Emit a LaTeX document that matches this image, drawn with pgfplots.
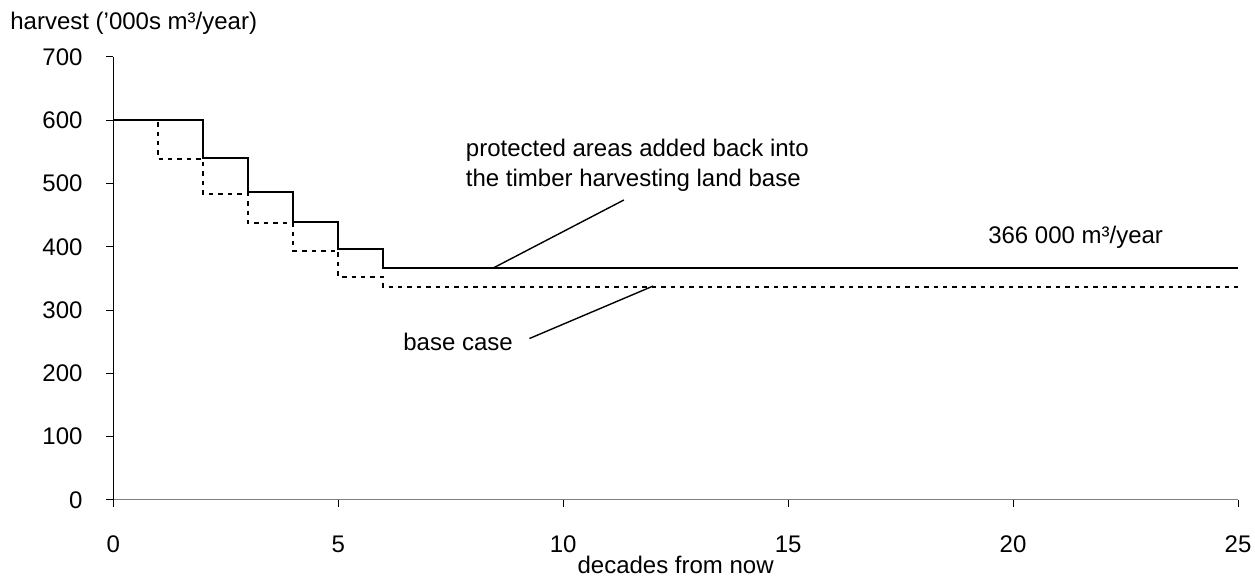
\documentclass[border=0pt]{standalone}
\usepackage{fontspec}
\setmainfont{Liberation Sans}
\usepackage{pgfplots}
\pgfplotsset{compat=1.18}
\begin{document}
\fontsize{12}{14.4}\selectfont
\begin{tikzpicture}
\useasboundingbox (-56.65pt,-38.5pt) rectangle (571pt,250pt);
\begin{axis}[
  scale only axis,
  width=562.5pt, height=221.5pt,
  xmin=0, xmax=25, ymin=0, ymax=700,
  axis x line=bottom, axis y line=left,
  axis line style={-},
  x axis line style={draw=gray},
  xtick={0,5,10,15,20,25},
  ytick={0,100,200,300,400,500,600,700},
  tick align=outside,
  major tick length=3.5pt,
  tick style={black, line width=0.5pt},
  /pgf/number format/assume math mode=true,
  xticklabel style={anchor=base, inner sep=0pt, yshift=-22.8pt},
  yticklabel style={anchor=east, inner sep=0pt, xshift=-11.7pt},
  xlabel={decades from now},
  xlabel style={at={(axis description cs:0.5,0)}, anchor=base, inner sep=0pt, yshift=-37pt},
  clip=false,
]
\addplot[const plot mark left, black, line width=1pt] coordinates {
  (0,600) (2,540) (3,487) (4,439) (5,396) (6,366) (25,366)
};
\addplot[const plot mark left, black, line width=1pt, dash pattern=on 2.2pt off 2.5pt] coordinates {
  (0,600) (1,538) (2,484) (3,437) (4,394) (5,353) (6,337) (25,337)
};
\draw[black, line width=0.7pt] (axis cs:8.46,367) -- (axis cs:11.35,474);
\draw[black, line width=0.7pt] (axis cs:9.25,255) -- (axis cs:12.0,338);
\node[anchor=base west, inner sep=0pt] at (axis cs:7.83,542) {protected areas added back into};
\node[anchor=base west, inner sep=0pt] at (axis cs:7.83,495.8) {the timber harvesting land base};
\node[anchor=base west, inner sep=0pt] at (axis cs:6.44,236.8) {base case};
\node[anchor=base west, inner sep=0pt] at (axis cs:19.44,405.3) {366 000 m³/year};
\end{axis}
\node[anchor=west, inner sep=0pt] at (-51.65pt,238.5pt) {harvest ('000s m³/year)};
\end{tikzpicture}
\end{document}
